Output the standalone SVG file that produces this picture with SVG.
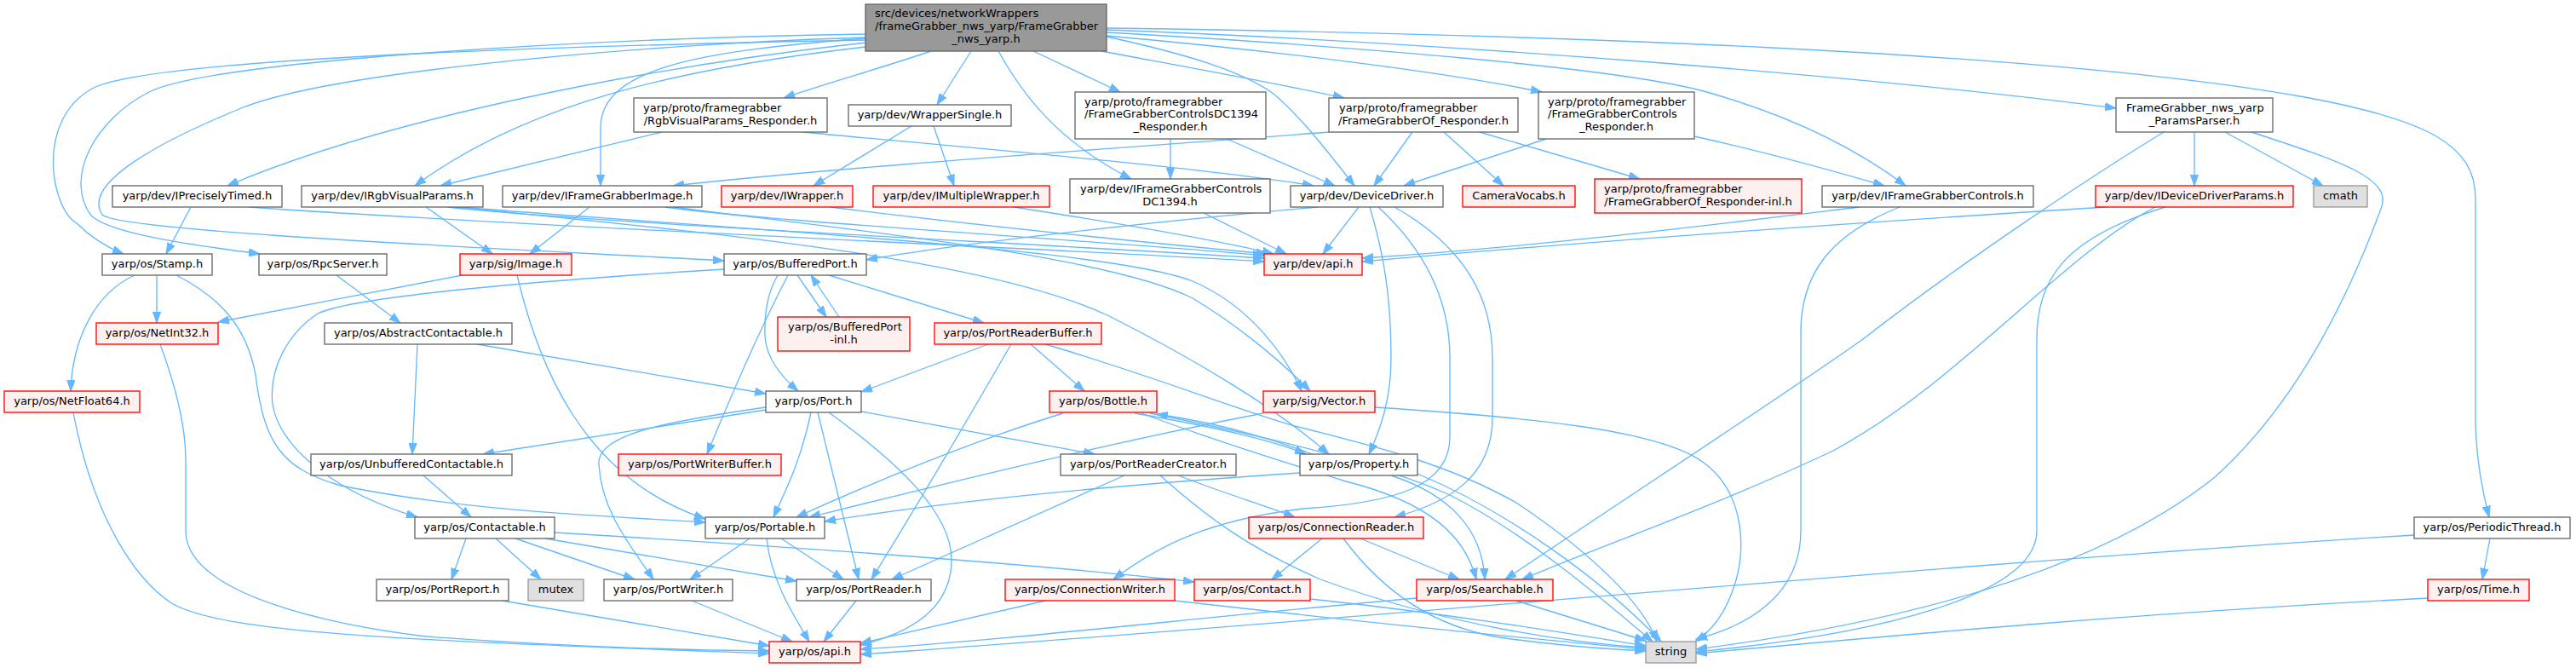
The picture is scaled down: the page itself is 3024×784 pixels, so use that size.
<svg xmlns="http://www.w3.org/2000/svg" width="3024" height="784" viewBox="0 0 3024 784">
<style>
.n rect{fill:#fff;stroke:#666;stroke-width:1.33}
.r rect{fill:#fff0f0;stroke:#f00;stroke-width:1.33}
.g rect{fill:#e0e0e0;stroke:#999;stroke-width:1.33}
.root rect{fill:#999;stroke:#666;stroke-width:1.33}
text{font-family:"DejaVu Sans","Liberation Sans",sans-serif;font-size:13px;fill:#000}
.m{text-anchor:middle}
#edges path{fill:none;stroke:#63b8ff;stroke-width:1.33;marker-end:url(#ah)}
</style>
<defs>
<marker id="ah" markerUnits="userSpaceOnUse" viewBox="0 0 14 10" markerWidth="14" markerHeight="10" refX="13" refY="5" orient="auto"><path d="M0,0.4 L13,5 L0,9.6 z" fill="#63b8ff" stroke="#63b8ff" stroke-width="1"/></marker>
</defs>
<rect width="3024" height="784" fill="#fff"/>
<g id="edges">
<path d="M1016,47 C600,55 180,70 110,103 C40,140 60,245 90,262 C108,280 125,290 145,298"/>
<path d="M1016,40 C700,45 260,70 177,107 C110,140 75,210 107,253 C130,275 230,288 305,298"/>
<path d="M1016,44 C800,50 400,80 283,127 C190,165 95,215 120,252 C140,272 600,292 850,306"/>
<path d="M1016,50 C750,80 450,140 267,218"/>
<path d="M1016,55 C800,80 620,120 487,218"/>
<path d="M1016,45 C820,60 705,80 705,150 L705,218"/>
<path d="M1093,60 C1040,78 980,95 920,115"/>
<path d="M1140,60 L1100,123"/>
<path d="M1172,60 C1200,110 1240,165 1328,210"/>
<path d="M1213,60 L1315,108"/>
<path d="M1293,60 C1400,80 1500,98 1578,115"/>
<path d="M1299,43 C1400,65 1460,85 1495,110 C1530,140 1560,180 1590,218"/>
<path d="M1299,42 C1500,60 1700,85 1810,108"/>
<path d="M1299,38 C1600,55 1900,80 2000,107 C2100,135 2180,175 2237,218"/>
<path d="M1299,35 C1700,50 2200,90 2484,127"/>
<path d="M1299,33 C1800,40 2400,60 2700,113 C2850,140 2906,170 2906,233 L2906,490 C2906,540 2915,580 2922,607"/>
<path d="M777,155 L517,218"/>
<path d="M942,155 C1100,170 1400,195 1542,218"/>
<path d="M1070,148 L955,218"/>
<path d="M1096,148 L1120,218"/>
<path d="M1374,163 L1374,210"/>
<path d="M1440,163 L1567,218"/>
<path d="M1658,155 L1613,218"/>
<path d="M1695,155 L1765,218"/>
<path d="M1737,155 L1925,210"/>
<path d="M1560,155 C1300,175 1000,195 790,218"/>
<path d="M1815,163 L1648,218"/>
<path d="M1989,160 C2080,180 2150,200 2212,218"/>
<path d="M2576,155 L2576,218"/>
<path d="M2612,155 L2727,218"/>
<path d="M2643,155 C2750,190 2810,210 2795,245 C2760,340 2700,470 2600,560 C2450,680 2200,735 1991,762"/>
<path d="M2540,155 C2450,210 2300,310 2187,398 C2100,460 1900,590 1767,680"/>
<path d="M2473,243 C2200,260 1900,280 1599,307"/>
<path d="M2530,243 C2420,300 2300,450 2150,530 C2000,600 1880,640 1787,680"/>
<path d="M2542,243 C2420,280 2391,330 2391,400 L2391,623 C2391,700 2200,745 1991,765"/>
<path d="M2183,243 C2000,265 1800,290 1599,303"/>
<path d="M2230,243 C2150,275 2114,320 2114,390 L2114,623 C2114,700 2050,735 1991,750"/>
<path d="M2834,628 C2300,660 1500,735 1010,768"/>
<path d="M2923,632 L2914,680"/>
<path d="M2850,702 C2500,720 2200,748 1991,767"/>
<path d="M1595,243 L1553,298"/>
<path d="M1547,243 C1300,265 1100,290 1017,305"/>
<path d="M1608,243 C1625,300 1633,350 1633,420 C1633,470 1620,505 1607,533"/>
<path d="M1618,243 C1680,300 1702,360 1702,420 L1702,513 C1702,570 1640,590 1530,597 C1420,610 1360,640 1307,680"/>
<path d="M1637,243 C1720,290 1752,350 1752,420 L1752,490 C1752,560 1700,590 1637,607"/>
<path d="M292,243 C600,265 1200,290 1484,307"/>
<path d="M525,243 C700,262 1200,285 1484,303"/>
<path d="M780,243 C900,260 1300,283 1484,300"/>
<path d="M975,243 C1150,265 1350,285 1488,298"/>
<path d="M1190,243 C1300,260 1420,280 1495,298"/>
<path d="M1413,250 L1510,298"/>
<path d="M500,243 L578,298"/>
<path d="M540,243 C800,265 1300,290 1400,330 C1470,360 1510,420 1528,459"/>
<path d="M535,243 C800,270 1150,300 1300,370 C1400,420 1500,480 1560,533"/>
<path d="M692,243 L622,298"/>
<path d="M790,243 C1000,270 1300,300 1400,350 C1450,380 1500,420 1538,459"/>
<path d="M224,243 L195,298"/>
<path d="M184,323 L184,379"/>
<path d="M158,323 C110,345 85,400 83,459"/>
<path d="M207,323 C260,350 290,385 300,440 C310,520 330,550 400,570 C550,600 700,605 828,613"/>
<path d="M395,323 L470,379"/>
<path d="M543,323 C450,340 350,360 256,378"/>
<path d="M607,323 C630,420 680,560 828,609"/>
<path d="M188,404 C205,450 218,500 218,540 L218,623 C218,700 400,735 500,747 C650,758 800,763 903,764"/>
<path d="M86,484 C110,610 160,680 200,707 C260,745 500,752 903,767"/>
<path d="M490,404 L484,533"/>
<path d="M560,404 L899,462"/>
<path d="M497,558 L553,607"/>
<path d="M899,481 L567,533"/>
<path d="M899,478 C780,495 700,510 703,545 C706,600 740,640 767,680"/>
<path d="M952,484 C940,540 925,570 908,607"/>
<path d="M960,484 L1008,680"/>
<path d="M973,484 C1050,540 1117,600 1117,657 C1117,720 1060,745 1010,757"/>
<path d="M1011,483 L1285,533"/>
<path d="M913,323 C900,345 897,370 898,395 C900,420 915,440 937,459"/>
<path d="M936,323 L970,372"/>
<path d="M985,372 L952,323"/>
<path d="M925,323 C890,390 860,460 830,533"/>
<path d="M973,323 L1155,379"/>
<path d="M850,316 C700,325 420,345 373,368 C340,390 315,430 320,475 C330,530 400,580 490,607"/>
<path d="M1160,404 L1011,460"/>
<path d="M1187,404 C1120,520 1060,620 1023,680"/>
<path d="M1210,404 L1273,459"/>
<path d="M1227,404 C1350,440 1450,480 1520,500 C1620,525 1700,545 1780,590 C1870,650 1930,710 1945,753"/>
<path d="M1248,485 C1150,515 1050,555 935,607"/>
<path d="M1332,485 C1420,500 1490,515 1533,533"/>
<path d="M1540,533 C1480,510 1420,495 1358,486"/>
<path d="M1340,485 C1420,515 1500,540 1580,565 C1680,590 1720,630 1733,680"/>
<path d="M1350,485 C1500,515 1620,545 1700,580 C1800,630 1900,720 1940,753"/>
<path d="M1483,485 C1300,520 1100,570 950,607"/>
<path d="M1614,478 C1800,490 1950,505 2000,543 C2050,580 2050,650 2035,690 C2025,720 2010,740 1990,753"/>
<path d="M1633,558 C1700,580 1740,620 1743,680"/>
<path d="M1664,556 C1770,600 1880,680 1950,753"/>
<path d="M1526,555 C1300,570 1100,590 968,612"/>
<path d="M1320,558 L1047,680"/>
<path d="M1362,558 C1420,610 1470,645 1550,680 C1700,735 1850,755 1932,760"/>
<path d="M1383,558 C1440,580 1490,595 1520,607"/>
<path d="M1552,632 L1493,680"/>
<path d="M1597,632 L1713,680"/>
<path d="M1577,632 C1620,690 1680,735 1760,748 C1830,758 1890,762 1932,764"/>
<path d="M547,632 L530,680"/>
<path d="M582,632 L635,680"/>
<path d="M605,632 L745,680"/>
<path d="M640,632 L935,682"/>
<path d="M651,625 C900,640 1200,660 1402,683"/>
<path d="M880,632 L810,680"/>
<path d="M917,632 L990,680"/>
<path d="M900,632 C905,680 930,720 950,753"/>
<path d="M590,705 L903,758"/>
<path d="M812,705 L930,753"/>
<path d="M1005,705 L967,753"/>
<path d="M1227,705 L1010,755"/>
<path d="M1379,705 C1600,730 1800,750 1932,762"/>
<path d="M1538,703 C1700,720 1850,745 1932,758"/>
<path d="M1663,702 C1400,725 1200,750 1010,762"/>
<path d="M1780,705 L1932,752"/>
</g>
<g id="root" class="root"><rect x="1016" y="5" width="283" height="55"/><text x="1027" y="20">src/devices/networkWrappers</text><text x="1027" y="35">/frameGrabber_nws_yarp/FrameGrabber</text><text class="m" x="1157.5" y="50">_nws_yarp.h</text></g>
<g id="n_rgbresp" class="n"><rect x="744" y="115" width="227" height="40"/><text x="755" y="131">yarp/proto/framegrabber</text><text class="m" x="857.5" y="145.5">/RgbVisualParams_Responder.h</text></g>
<g id="n_wrapsingle" class="n"><rect x="996" y="123" width="191" height="25"/><text class="m" x="1091.5" y="138.5">yarp/dev/WrapperSingle.h</text></g>
<g id="n_dc1394resp" class="n"><rect x="1262" y="108" width="224" height="55"/><text x="1273" y="123.5">yarp/proto/framegrabber</text><text x="1273" y="138">/FrameGrabberControlsDC1394</text><text class="m" x="1374" y="152.5">_Responder.h</text></g>
<g id="n_ofresp" class="n"><rect x="1560" y="115" width="222" height="40"/><text x="1572" y="131">yarp/proto/framegrabber</text><text class="m" x="1671" y="145.5">/FrameGrabberOf_Responder.h</text></g>
<g id="n_ctrlresp" class="n"><rect x="1806" y="108" width="183" height="55"/><text x="1817" y="123.5">yarp/proto/framegrabber</text><text x="1817" y="138">/FrameGrabberControls</text><text class="m" x="1897.5" y="152.5">_Responder.h</text></g>
<g id="n_params" class="n"><rect x="2484" y="115" width="184" height="40"/><text x="2496" y="131">FrameGrabber_nws_yarp</text><text class="m" x="2576" y="145.5">_ParamsParser.h</text></g>
<g id="n_iprecise" class="n"><rect x="132" y="218" width="199" height="25"/><text class="m" x="231.5" y="233.5">yarp/dev/IPreciselyTimed.h</text></g>
<g id="n_irgb" class="n"><rect x="354" y="218" width="213" height="25"/><text class="m" x="460.5" y="233.5">yarp/dev/IRgbVisualParams.h</text></g>
<g id="n_ifgimage" class="n"><rect x="590" y="218" width="234" height="25"/><text class="m" x="707" y="233.5">yarp/dev/IFrameGrabberImage.h</text></g>
<g id="n_iwrapper" class="r"><rect x="847" y="218" width="154" height="25"/><text class="m" x="924" y="233.5">yarp/dev/IWrapper.h</text></g>
<g id="n_imultiple" class="r"><rect x="1025" y="218" width="207" height="25"/><text class="m" x="1128.5" y="233.5">yarp/dev/IMultipleWrapper.h</text></g>
<g id="n_ifgdc1394" class="n"><rect x="1256" y="210" width="235" height="40"/><text x="1268" y="226">yarp/dev/IFrameGrabberControls</text><text class="m" x="1373.5" y="240.5">DC1394.h</text></g>
<g id="n_devdriver" class="n"><rect x="1515" y="218" width="179" height="25"/><text class="m" x="1604.5" y="233.5">yarp/dev/DeviceDriver.h</text></g>
<g id="n_camvocabs" class="r"><rect x="1717" y="218" width="132" height="25"/><text class="m" x="1783" y="233.5">CameraVocabs.h</text></g>
<g id="n_ofrespinl" class="r"><rect x="1872" y="210" width="243" height="40"/><text x="1883" y="226">yarp/proto/framegrabber</text><text class="m" x="1993.5" y="240.5">/FrameGrabberOf_Responder-inl.h</text></g>
<g id="n_ifgctrl" class="n"><rect x="2139" y="218" width="248" height="25"/><text class="m" x="2263" y="233.5">yarp/dev/IFrameGrabberControls.h</text></g>
<g id="n_iddparams" class="r"><rect x="2460" y="218" width="232" height="25"/><text class="m" x="2576" y="233.5">yarp/dev/IDeviceDriverParams.h</text></g>
<g id="n_cmath" class="g"><rect x="2716" y="218" width="63" height="25"/><text class="m" x="2747.5" y="233.5">cmath</text></g>
<g id="n_stamp" class="n"><rect x="120" y="298" width="129" height="25"/><text class="m" x="184.5" y="313.5">yarp/os/Stamp.h</text></g>
<g id="n_rpc" class="n"><rect x="304" y="298" width="150" height="25"/><text class="m" x="379" y="313.5">yarp/os/RpcServer.h</text></g>
<g id="n_image" class="r"><rect x="540" y="298" width="131" height="25"/><text class="m" x="605.5" y="313.5">yarp/sig/Image.h</text></g>
<g id="n_bufport" class="n"><rect x="850" y="298" width="167" height="25"/><text class="m" x="933.5" y="313.5">yarp/os/BufferedPort.h</text></g>
<g id="n_devapi" class="r"><rect x="1484" y="298" width="115" height="25"/><text class="m" x="1541.5" y="313.5">yarp/dev/api.h</text></g>
<g id="n_netint32" class="r"><rect x="113" y="379" width="143" height="25"/><text class="m" x="184.5" y="394.5">yarp/os/NetInt32.h</text></g>
<g id="n_abscont" class="n"><rect x="381" y="379" width="220" height="25"/><text class="m" x="491" y="394.5">yarp/os/AbstractContactable.h</text></g>
<g id="n_bufportinl" class="r"><rect x="913" y="372" width="155" height="40"/><text x="925" y="388">yarp/os/BufferedPort</text><text class="m" x="990.5" y="402.5">-inl.h</text></g>
<g id="n_prbuffer" class="r"><rect x="1097" y="379" width="196" height="25"/><text class="m" x="1195" y="394.5">yarp/os/PortReaderBuffer.h</text></g>
<g id="n_netfloat64" class="r"><rect x="5" y="459" width="159" height="25"/><text class="m" x="84.5" y="474.5">yarp/os/NetFloat64.h</text></g>
<g id="n_port" class="n"><rect x="899" y="459" width="112" height="25"/><text class="m" x="955" y="474.5">yarp/os/Port.h</text></g>
<g id="n_bottle" class="r"><rect x="1232" y="459" width="126" height="25"/><text class="m" x="1295" y="474.5">yarp/os/Bottle.h</text></g>
<g id="n_vector" class="r"><rect x="1483" y="459" width="131" height="25"/><text class="m" x="1548.5" y="474.5">yarp/sig/Vector.h</text></g>
<g id="n_unbuf" class="n"><rect x="365" y="533" width="236" height="25"/><text class="m" x="483" y="548.5">yarp/os/UnbufferedContactable.h</text></g>
<g id="n_pwbuffer" class="r"><rect x="726" y="533" width="191" height="25"/><text class="m" x="821.5" y="548.5">yarp/os/PortWriterBuffer.h</text></g>
<g id="n_prcreator" class="n"><rect x="1245" y="533" width="206" height="25"/><text class="m" x="1348" y="548.5">yarp/os/PortReaderCreator.h</text></g>
<g id="n_property" class="n"><rect x="1526" y="533" width="138" height="25"/><text class="m" x="1595" y="548.5">yarp/os/Property.h</text></g>
<g id="n_contactable" class="n"><rect x="487" y="607" width="164" height="25"/><text class="m" x="569" y="622.5">yarp/os/Contactable.h</text></g>
<g id="n_portable" class="n"><rect x="828" y="607" width="140" height="25"/><text class="m" x="898" y="622.5">yarp/os/Portable.h</text></g>
<g id="n_connreader" class="r"><rect x="1466" y="607" width="205" height="25"/><text class="m" x="1568.5" y="622.5">yarp/os/ConnectionReader.h</text></g>
<g id="n_periodic" class="n"><rect x="2834" y="607" width="183" height="25"/><text class="m" x="2925.5" y="622.5">yarp/os/PeriodicThread.h</text></g>
<g id="n_portreport" class="n"><rect x="442" y="680" width="155" height="25"/><text class="m" x="519.5" y="695.5">yarp/os/PortReport.h</text></g>
<g id="n_mutex" class="g"><rect x="620" y="680" width="65" height="25"/><text class="m" x="652.5" y="695.5">mutex</text></g>
<g id="n_portwriter" class="n"><rect x="709" y="680" width="151" height="25"/><text class="m" x="784.5" y="695.5">yarp/os/PortWriter.h</text></g>
<g id="n_portreader" class="n"><rect x="935" y="680" width="158" height="25"/><text class="m" x="1014" y="695.5">yarp/os/PortReader.h</text></g>
<g id="n_connwriter" class="r"><rect x="1180" y="680" width="199" height="25"/><text class="m" x="1279.5" y="695.5">yarp/os/ConnectionWriter.h</text></g>
<g id="n_contact" class="r"><rect x="1402" y="680" width="136" height="25"/><text class="m" x="1470" y="695.5">yarp/os/Contact.h</text></g>
<g id="n_searchable" class="r"><rect x="1663" y="680" width="160" height="25"/><text class="m" x="1743" y="695.5">yarp/os/Searchable.h</text></g>
<g id="n_time" class="r"><rect x="2850" y="680" width="119" height="25"/><text class="m" x="2909.5" y="695.5">yarp/os/Time.h</text></g>
<g id="n_osapi" class="r"><rect x="903" y="753" width="107" height="25"/><text class="m" x="956.5" y="768.5">yarp/os/api.h</text></g>
<g id="n_string" class="g"><rect x="1932" y="753" width="59" height="25"/><text class="m" x="1961.5" y="768.5">string</text></g>
</svg>
